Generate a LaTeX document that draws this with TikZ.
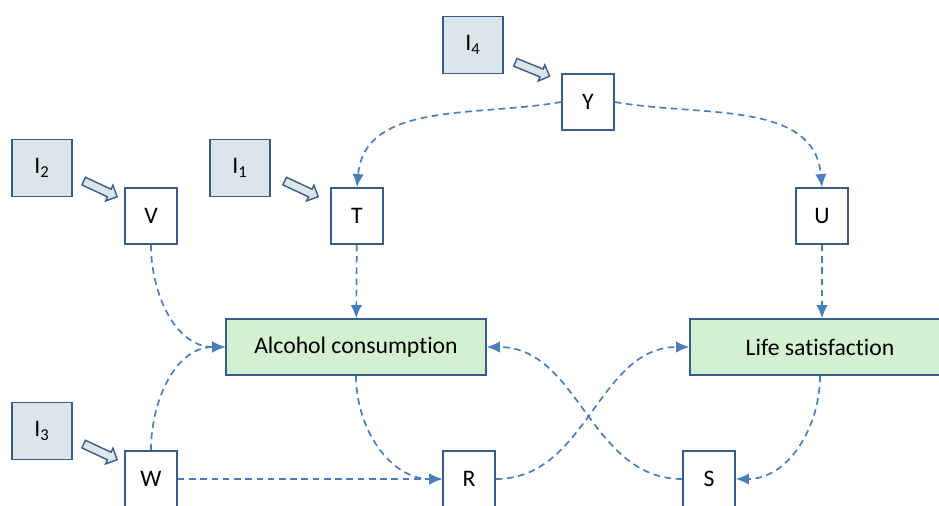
\documentclass[tikz,border=0pt]{standalone}
\usepackage{fontspec}
\setmainfont{Carlito}[Ligatures={NoCommon,NoContextual}]
\usepackage{tikz}
\usetikzlibrary{positioning, arrows.meta, shapes.arrows, calc}
\definecolor{dLine}{HTML}{4A7EBB}
\definecolor{bEdge}{HTML}{385D8A}
\definecolor{gFill}{HTML}{D3F1D0}
\definecolor{iFill}{HTML}{DCE6EA}

\begin{document}
\begin{tikzpicture}[x=0.02cm, y=-0.02cm, >=Latex,
  font=\fontsize{13.5pt}{16pt}\selectfont,
  var/.style={draw=bEdge, line width=0.9pt, fill=white, minimum width=1.04cm, minimum height=1.12cm, inner sep=0pt},
  inst/.style={var, fill=iFill, minimum width=1.2cm, minimum height=1.14cm},
  outc/.style={var, fill=gFill, minimum width=5.2cm},
  link/.style={-{Latex[length=7.5pt,width=6.5pt]}, dLine, line width=0.95pt, dash pattern=on 3.8pt off 2.6pt},
  push/.style={single arrow, draw=bEdge, fill=iFill, line width=0.8pt, minimum height=0.74cm, single arrow head extend=0.09cm, inner sep=0.07cm}]
  \clip (0,0) rectangle (939,505);

  % instruments
  \node[inst] (I4) at (473,45) {I\textsubscript{4}};
  \node[inst] (I2) at (42,168) {I\textsubscript{2}};
  \node[inst] (I1) at (240,168) {I\textsubscript{1}};
  \node[inst] (I3) at (42,431) {I\textsubscript{3}};

  % variables
  \node[var] (Y) at (588,102) {Y};
  \node[var] (V) at (151,216) {V};
  \node[var] (T) at (357,216) {T};
  \node[var] (U) at (822,216) {U};
  \node[var] (W) at (151,479) {W};
  \node[var] (R) at (469,479) {R};
  \node[var] (S) at (709,479) {S};

  % outcomes
  \node[outc] (alc) at (356,347) {Alcohol consumption};
  \node[outc] (life) at (820,347) {Life satisfaction};

  % instrument arrows
  \node[push, rotate=-22] (p4) at ($(I4)!0.5!(Y)+(0,-5)$) {};
  \node[push, rotate=-25] (p2) at ($(I2)!0.5!(V)+(2,-4)$) {};
  \node[push, rotate=-25] (p1) at ($(I1)!0.5!(T)+(1,-4)$) {};
  \node[push, rotate=-25] (p3) at ($(I3)!0.5!(W)+(2,-4)$) {};

  % links
  \draw[link] (Y.west) to[out=190, in=85] (T.north);
  \draw[link] (Y.east) to[out=-10, in=95] (U.north);
  \draw[link] (V.south) to[out=-90, in=180] (alc.west);
  \draw[link] (W.north) to[out=90, in=180] (alc.west);
  \draw[link] (T) -- (alc);
  \draw[link] (U) -- (U |- life.north);
  \draw[link] (alc.south) to[out=-90, in=180] (R.west);
  \draw[link] (W) -- (R);
  \draw[link] (R.east) to[out=0, in=180] (life.west);
  \draw[link] (S.west) to[out=180, in=0] (alc.east);
  \draw[link] (life.south) to[out=-90, in=0] (S.east);
\end{tikzpicture}
\end{document}
